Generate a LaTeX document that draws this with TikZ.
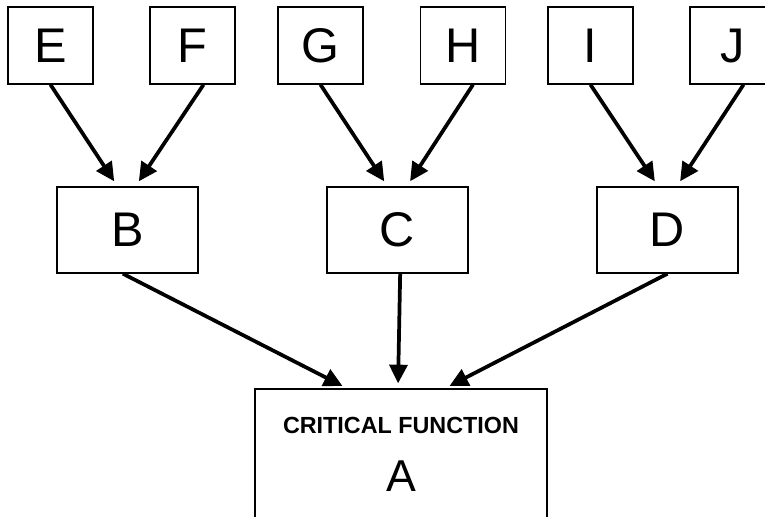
\documentclass[tikz,border=0pt]{standalone}
\usepackage{fontspec}
\setmainfont{Liberation Sans}
\usetikzlibrary{arrows.meta}
\begin{document}
\begin{tikzpicture}[x=0.75pt,y=-0.75pt,
    leaf/.style={draw,line width=1pt,minimum width=63.75pt,minimum height=57.75pt,
      inner sep=0pt,font=\fontsize{36.5}{36.5}\selectfont},
    branch/.style={draw,line width=1pt,minimum width=105.75pt,minimum height=64.5pt,
      inner sep=0pt,font=\fontsize{36.5}{36.5}\selectfont},
    root/.style={draw,line width=1pt,minimum width=219pt,minimum height=135pt,inner sep=0pt},
    link/.style={line width=2.8pt,-{Triangle[length=14pt,width=13.5pt]}}]
  \clip (0,0) rectangle (765,517);
  \draw
    (50.5,45.5) node[leaf] (E){E}
    (192.5,45.5) node[leaf] (F){F}
    (320.5,45.5) node[leaf] (G){G}
    (463,45.5) node[leaf] (H){H}
    (590.5,45.5) node[leaf] (I){I}
    (732.5,45.5) node[leaf] (J){J}
    (127.5,230) node[branch] (B){B}
    (397.5,230) node[branch] (C){C}
    (667.5,230) node[branch] (D){D}
    (401,479) node[root] (A){};
  \node[font=\bfseries\fontsize{17.5}{17.5}\selectfont] (crit) at (401,425.5) {CRITICAL FUNCTION};
  \node[font=\fontsize{33.5}{33.5}\selectfont] (Aname) at (401,476) {A};
  \begin{scope}[link,shorten >=4.5pt]
    \draw (E.south) to ([xshift=-7.5pt]B.north);
    \draw ([xshift=8.25pt]F.south) to ([xshift=6pt]B.north);
    \draw (G.south) to ([xshift=-7.5pt]C.north);
    \draw ([xshift=7.5pt]H.south) to ([xshift=7pt]C.north);
    \draw (I.south) to ([xshift=-7pt]D.north);
    \draw ([xshift=8.25pt]J.south) to ([xshift=7pt]D.north);
  \end{scope}
  \begin{scope}[link,shorten >=3.75pt]
    \draw ([xshift=-3.5pt]B.south) to ([xshift=-40.5pt]A.north);
    \draw ([xshift=2pt]C.south) to ([xshift=-2.25pt]A.north);
    \draw (D.south) to ([xshift=33pt]A.north);
  \end{scope}
\end{tikzpicture}
\end{document}
